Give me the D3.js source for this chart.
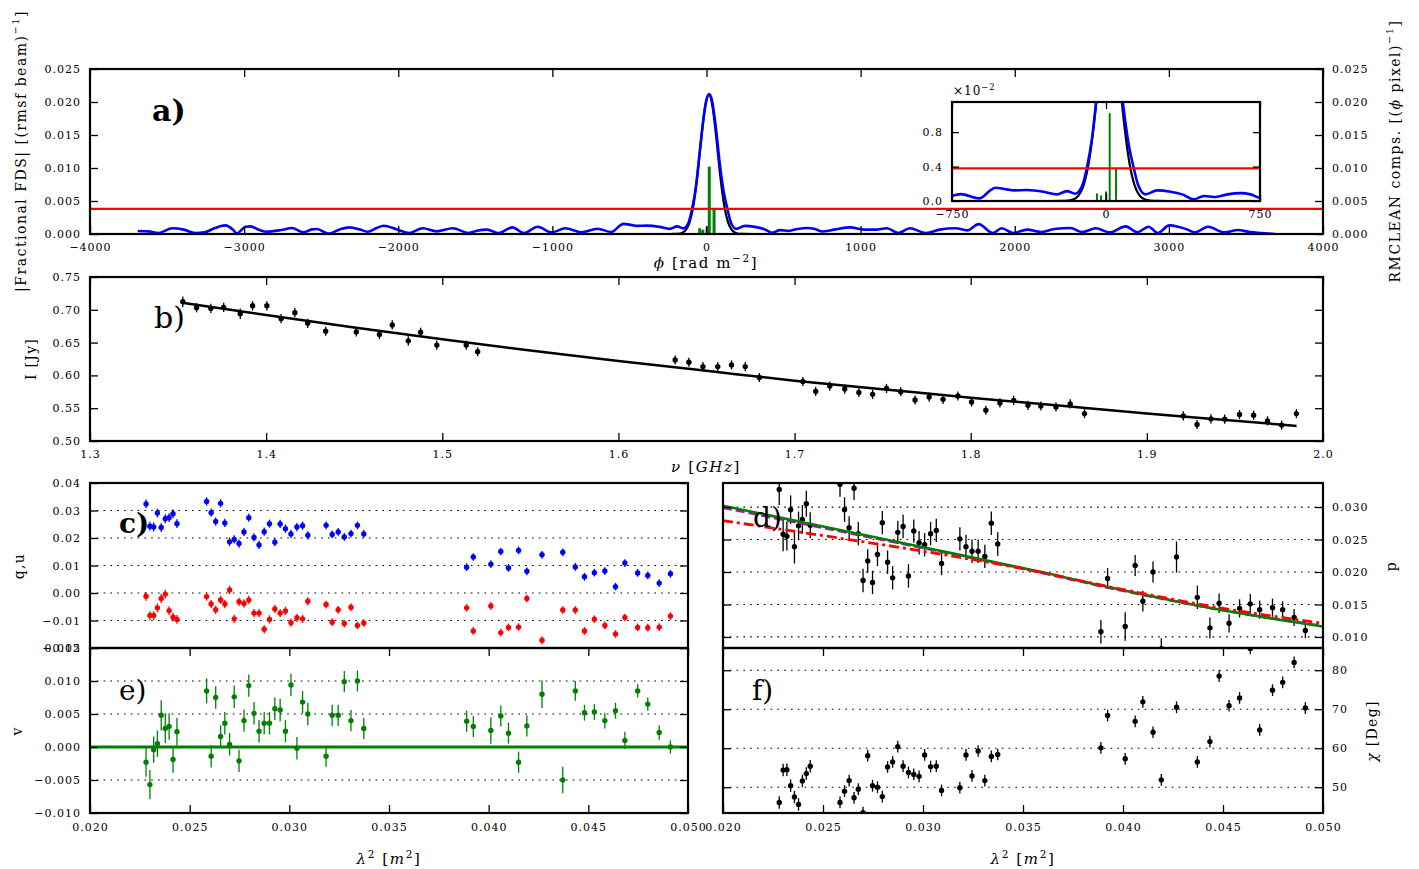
<!DOCTYPE html>
<html><head><meta charset="utf-8">
<script src="https://cdn.jsdelivr.net/npm/d3@7"></script>
<style>
body{margin:0;background:#fff;}
svg text{font-family:"DejaVu Serif",serif;fill:#000;}
</style></head><body>
<svg id="fig" width="1419" height="869"></svg>
<script>
// ---------------- DATA ----------------
// panel a: Faraday dispersion (blue), restoring beam (black), RMCLEAN components (green)
const phiFDS = [-3690,-3620,-3556,-3466,-3392,-3317,-3257,-3190,-3123,-3070,-3049,-2990,-2959,-2900,-2855,-2760,-2690,-2616,-2560,-2527,-2452,-2380,-2318,-2250,-2199,-2140,-2095,-2005,-1930,-1841,-1751,-1647,-1542,-1490,-1423,-1349,-1259,-1184,-1095,-1005,-916,-811,-707,-617,-560,-540,-483,-450,-386,-304,-239,-190,-150,-117,-93,-68,-45,-20,0,17,35,60,85,111,135,159,192,249,314,371,428,477,534,591,656,704,750,828,932,1022,1096,1170,1245,1319,1424,1513,1617,1692,1766,1856,1915,1990,2080,2169,2258,2362,2437,2526,2616,2720,2794,2869,2928,3003,3060,3122,3167,3255,3360,3449,3524,3598,3688];
const absFDS = [0.00045,0.0004,0.00015,0.00086,0.00066,0.00015,0.00025,0.0009,0.0013,0.0006,0.0001,0.0011,0.00116,0.0006,0.00035,0.0006,0.0009,0.00025,0.0007,0.00076,0.00005,0.0007,0.001,0.0007,0.00035,0.0009,0.00126,0.00066,0.00015,0.00086,0.0004,0.00086,0.00015,0.0005,0.00066,0.00015,0.001,0.00015,0.0011,0.00025,0.00086,0.00025,0.0008,0.0003,0.0013,0.00154,0.00135,0.00123,0.00127,0.00108,0.00077,0.00115,0.00085,0.0017,0.00385,0.0073,0.0122,0.0174,0.0203,0.0212,0.0203,0.0163,0.0109,0.0065,0.00385,0.0017,0.00077,0.00123,0.00108,0.00077,0.00019,0.00058,0.00046,0.00077,0.00092,0.00077,0.00038,0.00066,0.001,0.00066,0.00066,0.00086,0.00015,0.00086,0.00015,0.00066,0.00086,0.00055,0.0015,0.00015,0.00086,0.00015,0.00066,0.0003,0.00076,0.0009,0.0003,0.00086,0.00025,0.00116,0.00025,0.0011,0.00015,0.0013,0.0011,0.00066,0.00025,0.0011,0.00025,0.0006,0.0003,0.00015,0.0];
const phiBeam = [-265,-215,-185,-160,-135,-110,-85,-60,-35,-10,15,40,65,90,115,140,165,190,215,245,295];
const beamVal = [0,0.000005,0.000036,0.00016,0.00059,0.00176,0.0043,0.00865,0.01423,0.01919,0.0212,0.01919,0.01423,0.00865,0.0043,0.00176,0.00059,0.00016,0.000036,0.000005,0];
const compPhi = [-44,-24,18,49];
const compVal = [0.00088,0.00065,0.0102,0.0038];
const blackCompPhi = [0];
const blackCompVal = [0.0011];
const threshold = [0.0038];

// panel b: Stokes I vs frequency
const freqGHz = [1.3527,1.3605,1.3686,1.3759,1.3853,1.3923,1.4004,1.4085,1.4163,1.4236,1.4338,1.4512,1.4643,1.4716,1.4807,1.4877,1.4969,1.5136,1.5201,1.6322,1.6400,1.6480,1.6564,1.6642,1.6720,1.6800,1.7047,1.7120,1.7200,1.7285,1.7365,1.7443,1.7522,1.7603,1.7684,1.7764,1.7843,1.7927,1.8005,1.8086,1.8166,1.8244,1.8325,1.8398,1.8484,1.8565,1.8646,1.9207,1.9285,1.9364,1.9442,1.9526,1.9606,1.9685,1.9765,1.9849];
const stokesI = [0.7122,0.7031,0.7021,0.7036,0.6940,0.7061,0.7061,0.6865,0.6956,0.6794,0.6673,0.6663,0.6623,0.6769,0.6527,0.6658,0.6462,0.6462,0.6361,0.6235,0.6200,0.6134,0.6134,0.6160,0.6134,0.5968,0.5907,0.5756,0.5837,0.5792,0.5741,0.5711,0.5801,0.5751,0.5625,0.5670,0.5635,0.5686,0.5595,0.5469,0.5580,0.5620,0.5544,0.5534,0.5519,0.5565,0.5418,0.5383,0.5252,0.5338,0.5333,0.5403,0.5393,0.5307,0.5242,0.5418];
const errI = [0.008,0.007,0.007,0.007,0.008,0.007,0.007,0.007,0.007,0.007,0.007,0.007,0.007,0.007,0.007,0.007,0.007,0.007,0.007,0.007,0.007,0.007,0.007,0.007,0.007,0.007,0.007,0.007,0.007,0.007,0.007,0.007,0.007,0.007,0.007,0.007,0.007,0.007,0.007,0.007,0.007,0.007,0.007,0.007,0.007,0.007,0.007,0.007,0.007,0.007,0.007,0.007,0.007,0.007,0.007,0.007];
const fitNu = [1.352,1.40,1.45,1.50,1.55,1.60,1.65,1.70,1.75,1.80,1.85,1.90,1.95,1.985];
const fitI = [0.711,0.692,0.673,0.655,0.638,0.622,0.607,0.592,0.579,0.566,0.554,0.542,0.531,0.523];

// panels c-f: vs lambda^2
const lambda2 = [0.022812,0.023006,0.023194,0.023381,0.023573,0.023777,0.023969,0.024166,0.024362,
 0.025850,0.026077,0.026306,0.026552,0.026764,0.027002,0.027235,0.027476,0.027724,0.027966,0.028229,0.028481,0.028739,0.029005,0.029273,0.029539,0.029805,0.030082,0.030380,0.030664,0.030928,
 0.031844,0.032149,0.032451,0.032757,0.033092,0.033416,0.033736,
 0.038895,0.039230,0.040110,0.040608,0.040993,0.041501,0.041916,0.042676,0.043718,0.044347,0.044806,0.045303,0.045829,0.046363,0.046833,0.047475,0.047983,0.048556,0.049118];
const qFrac = [-0.0012,-0.0082,-0.0082,-0.0054,-0.0020,-0.0004,-0.0064,-0.0088,-0.0096,
 -0.0013,-0.0040,-0.0061,-0.0025,-0.0040,0.0011,-0.0094,-0.0032,-0.0038,-0.0025,-0.0073,-0.0073,-0.0132,-0.0096,-0.0058,-0.0073,-0.0065,-0.0108,-0.0090,-0.0094,-0.0030,
 -0.0042,-0.0106,-0.0061,-0.0111,-0.0052,-0.0118,-0.0109,
 -0.0054,-0.0138,-0.0047,-0.0144,-0.0125,-0.0124,-0.0020,-0.0172,-0.0062,-0.0062,-0.0138,-0.0095,-0.0118,-0.0149,-0.0089,-0.0125,-0.0126,-0.0124,-0.0084];
const uFrac = [0.0324,0.0243,0.0240,0.0291,0.0238,0.0270,0.0274,0.0288,0.0252,
 0.0333,0.0292,0.0260,0.0326,0.0255,0.0186,0.0195,0.0180,0.0222,0.0274,0.0202,0.0175,0.0223,0.0252,0.0185,0.0251,0.0234,0.0215,0.0240,0.0245,0.0210,
 0.0246,0.0213,0.0222,0.0204,0.0216,0.0246,0.0215,
 0.0094,0.0131,0.0105,0.0151,0.0091,0.0155,0.0079,0.0139,0.0148,0.0095,0.0059,0.0074,0.0080,0.0023,0.0109,0.0073,0.0064,0.0036,0.0070];
const errQU = [0.0016,0.0016,0.0016,0.0016,0.0016,0.0016,0.0016,0.0016,0.0016,
 0.0015,0.0015,0.0015,0.0015,0.0015,0.0015,0.0015,0.0015,0.0015,0.0015,0.0015,0.0015,0.0015,0.0015,0.0015,0.0015,0.0015,0.0015,0.0015,0.0015,0.0015,
 0.0014,0.0014,0.0014,0.0014,0.0014,0.0014,0.0014,
 0.0014,0.0014,0.0014,0.0014,0.0014,0.0014,0.0014,0.0014,0.0014,0.0014,0.0014,0.0014,0.0014,0.0014,0.0014,0.0014,0.0014,0.0014,0.0014];
const vFrac = [-0.0023,-0.0057,-0.0004,0.0005,0.0048,0.0028,0.0031,-0.0019,0.0023,
 0.0085,-0.0014,0.0075,0.0016,0.0036,0.0004,0.0076,-0.0021,0.0040,0.0093,0.0051,0.0024,0.0036,0.0036,0.0058,0.0056,0.0024,0.0094,-0.0002,0.0068,0.0050,
 -0.0014,0.0048,0.0048,0.0099,0.0040,0.0100,0.0028,
 0.0039,0.0031,0.0025,0.0047,0.0021,-0.0023,0.0032,0.0080,-0.0050,0.0085,0.0052,0.0053,0.0040,0.0055,0.0010,0.0085,0.0065,0.0022,0.0000];
const errV = [0.0022,0.0022,0.0020,0.0020,0.0023,0.0022,0.0020,0.0020,0.0021,
 0.0019,0.0017,0.0017,0.0017,0.0017,0.0017,0.0017,0.0017,0.0017,0.0017,0.0017,0.0017,0.0017,0.0017,0.0017,0.0017,0.0017,0.0017,0.0017,0.0017,0.0017,
 0.0016,0.0016,0.0016,0.0016,0.0016,0.0016,0.0016,
 0.0016,0.0016,0.0020,0.0016,0.0016,0.0016,0.0016,0.0021,0.0020,0.0015,0.0012,0.0012,0.0012,0.0012,0.0013,0.0010,0.0010,0.0011,0.0010];
const pFrac = [0.0327,0.0258,0.0255,0.0296,0.0239,0.0271,0.0281,0.0305,0.0272,
 0.0335,0.0296,0.0268,0.0329,0.0259,0.0187,0.0217,0.0184,0.0227,0.0276,0.0215,0.0191,0.0261,0.0270,0.0194,0.0263,0.0245,0.0242,0.0259,0.0264,0.0213,
 0.0251,0.0239,0.0232,0.0232,0.0224,0.0275,0.0243,
 0.0108,0.0190,0.0116,0.0210,0.0155,0.0200,0.0082,0.0223,0.0161,0.0114,0.0152,0.0121,0.0144,0.0151,0.0142,0.0145,0.0142,0.0130,0.0110];
const errP = [0.0024,0.0026,0.0022,0.0022,0.0026,0.0022,0.0022,0.0020,0.0020,
 0.0019,0.0019,0.0018,0.0018,0.0018,0.0018,0.0018,0.0018,0.0018,0.0018,0.0018,0.0018,0.0018,0.0018,0.0018,0.0018,0.0018,0.0018,0.0018,0.0018,0.0018,
 0.0018,0.0018,0.0018,0.0018,0.0018,0.0018,0.0018,
 0.0018,0.0016,0.0022,0.0016,0.0016,0.0016,0.0016,0.0024,0.0018,0.0016,0.0015,0.0014,0.0014,0.0015,0.0014,0.0014,0.0013,0.0013,0.0012];
const chiDeg = [46.1,54.4,54.5,50.4,47.5,45.6,51.6,53.5,55.4,
 46.1,49.0,51.7,47.3,49.5,43.5,58.1,50.4,50.0,47.6,55.2,56.5,60.4,55.4,53.8,53.3,52.8,58.3,55.3,55.4,49.2,
 49.9,58.3,52.9,59.3,51.7,57.9,58.4,
 60.1,68.4,57.3,66.9,71.9,64.1,51.9,70.5,56.5,61.7,78.5,70.9,72.9,85.6,64.7,74.9,76.9,82.0,70.3];
const errChi = [1.6,1.6,1.6,1.6,1.6,1.6,1.6,1.6,1.6,
 1.5,1.5,1.5,1.5,1.5,1.5,1.5,1.5,1.5,1.5,1.5,1.5,1.5,1.5,1.5,1.5,1.5,1.5,1.5,1.5,1.5,
 1.5,1.5,1.5,1.5,1.5,1.5,1.5,
 1.5,1.5,1.5,1.5,1.5,1.5,1.5,1.5,1.5,1.5,1.5,1.5,1.5,1.5,1.5,1.5,1.5,1.5,1.5];
// model curves in panel d and e
const modelLam2 = [0.020,0.025,0.030,0.035,0.040,0.045,0.050];
const modelGreen = [0.0302,0.0270,0.0238,0.0206,0.0172,0.0141,0.0116];
const modelMagenta = [0.0299,0.0268,0.0237,0.0205,0.0171,0.0141,0.0117];
const modelRed = [0.0279,0.0256,0.0232,0.0205,0.0173,0.0144,0.0121];
const vModelLam2 = [0.020,0.050];
const vModel = [0,0];

// tick values
const ticksPhi = [-4000,-3000,-2000,-1000,0,1000,2000,3000,4000];
const ticksFDS = [0,0.005,0.010,0.015,0.020,0.025];
const ticksInsetPhi = [-750,0,750];
const ticksInsetY = [0,0.004,0.008];
const ticksNu = [1.3,1.4,1.5,1.6,1.7,1.8,1.9,2.0];
const ticksI = [0.50,0.55,0.60,0.65,0.70,0.75];
const ticksLam2 = [0.020,0.025,0.030,0.035,0.040,0.045,0.050];
const ticksQU = [-0.02,-0.01,0.00,0.01,0.02,0.03,0.04];
const ticksV = [-0.010,-0.005,0.000,0.005,0.010,0.015];
const ticksP = [0.010,0.015,0.020,0.025,0.030];
const ticksChi = [50,60,70,80];

// ---------------- LAYOUT ----------------
const A = {x0:90,x1:1323,y0:69,y1:234};
const INS = {x0:952,x1:1260,y0:102,y1:201};
const B = {x0:90,x1:1323,y0:277,y1:441};
const C = {x0:90,x1:688,y0:483,y1:648};
const E = {x0:90,x1:688,y0:648,y1:813};
const D = {x0:723,x1:1323,y0:483,y1:648};
const F = {x0:723,x1:1323,y0:648,y1:813};

const svg = d3.select("#fig");
const defs = svg.append("defs");
const FONT = '"DejaVu Serif",serif';

const xA = d3.scaleLinear([-4000,4000],[A.x0,A.x1]), yA = d3.scaleLinear([0,0.025],[A.y1,A.y0]);
const xI = d3.scaleLinear([-750,750],[INS.x0,INS.x1]), yI = d3.scaleLinear([0,0.0115],[INS.y1,INS.y0]);
const xB = d3.scaleLinear([1.3,2.0],[B.x0,B.x1]), yB = d3.scaleLinear([0.5,0.75],[B.y1,B.y0]);
const xC = d3.scaleLinear([0.02,0.05],[C.x0,C.x1]), yC = d3.scaleLinear([-0.02,0.04],[C.y1,C.y0]);
const xE = d3.scaleLinear([0.02,0.05],[E.x0,E.x1]), yE = d3.scaleLinear([-0.01,0.015],[E.y1,E.y0]);
const xD = d3.scaleLinear([0.02,0.05],[D.x0,D.x1]), yD = d3.scaleLinear([0.0083,0.0337],[D.y1,D.y0]);
const xF = d3.scaleLinear([0.02,0.05],[F.x0,F.x1]), yF = d3.scaleLinear([43.4,85.7],[F.y1,F.y0]);

let clipN = 0;
function dataGroup(b){
  const id = "clip"+(clipN++);
  defs.append("clipPath").attr("id",id).append("rect")
    .attr("x",b.x0).attr("y",b.y0).attr("width",b.x1-b.x0).attr("height",b.y1-b.y0);
  return svg.append("g").attr("clip-path",`url(#${id})`);
}
function styleAxis(sel){
  sel.select(".domain").remove();
  sel.attr("font-family",null).attr("font-size",null);
  sel.selectAll(".tick line").attr("stroke","#000").attr("stroke-width",1.3);
  sel.selectAll(".tick text").style("font-family",FONT).style("font-size","11px")
     .style("letter-spacing","1px").attr("fill","#000");
}
function drawAxes(b, xs, ys, o){
  const g = svg.append("g");
  const tl = o.tl || 8;
  if (o.xTicks){
    if (o.xBottom !== false)
      g.append("g").attr("transform",`translate(0,${b.y1})`)
       .call(d3.axisBottom(xs).tickValues(o.xTicks).tickSize(-tl).tickSizeOuter(0).tickPadding(o.xPad||9).tickFormat(o.xFmt||(()=>"")))
       .call(styleAxis);
    if (o.xTop)
      g.append("g").attr("transform",`translate(0,${b.y0})`)
       .call(d3.axisTop(xs).tickValues(o.xTicks).tickSize(-tl).tickSizeOuter(0).tickFormat(()=>""))
       .call(styleAxis);
  }
  if (o.yTicks){
    g.append("g").attr("transform",`translate(${b.x0},0)`)
     .call(d3.axisLeft(ys).tickValues(o.yTicks).tickSize(-tl).tickSizeOuter(0).tickPadding(9).tickFormat(o.yLeftFmt||(()=>"")))
     .call(styleAxis);
    g.append("g").attr("transform",`translate(${b.x1},0)`)
     .call(d3.axisRight(ys).tickValues(o.yTicks).tickSize(-tl).tickSizeOuter(0).tickPadding(9).tickFormat(o.yRightFmt||(()=>"")))
     .call(styleAxis);
  }
  g.append("rect").attr("x",b.x0).attr("y",b.y0).attr("width",b.x1-b.x0).attr("height",b.y1-b.y0)
   .attr("fill","none").attr("stroke","#000").attr("stroke-width",2.2);
  return g;
}
function grid(b, ys, vals){
  svg.append("g").selectAll("line").data(vals.filter(v=>ys(v)>b.y0+1 && ys(v)<b.y1-1)).join("line")
    .attr("x1",b.x0).attr("x2",b.x1).attr("y1",d=>ys(d)).attr("y2",d=>ys(d))
    .attr("stroke","#000").attr("stroke-width",1.2).attr("stroke-dasharray","1.6,5.2");
}
function errPoints(g, xs, ys, X, Y, Er, color){
  const idx = d3.range(X.length);
  g.append("g").selectAll("line").data(idx).join("line")
    .attr("x1",i=>xs(X[i])).attr("x2",i=>xs(X[i]))
    .attr("y1",i=>ys(Y[i]-Er[i])).attr("y2",i=>ys(Y[i]+Er[i]))
    .attr("stroke",color).attr("stroke-width",1.3);
  g.append("g").selectAll("circle").data(idx).join("circle")
    .attr("cx",i=>xs(X[i])).attr("cy",i=>ys(Y[i])).attr("r",2.7).attr("fill",color);
}
function curve(g, xs, ys, X, Y, color, w, dash, cv){
  const line = d3.line().x(i=>xs(X[i])).y(i=>ys(Y[i])).curve(cv||d3.curveMonotoneX);
  g.append("path").attr("d",line(d3.range(X.length))).attr("fill","none")
    .attr("stroke",color).attr("stroke-width",w).attr("stroke-dasharray",dash||null)
    .attr("stroke-linejoin","round");
}
function bars(g, xs, ys, X, Y, color, w){
  g.append("g").selectAll("line").data(d3.range(X.length)).join("line")
    .attr("x1",i=>xs(X[i])).attr("x2",i=>xs(X[i])).attr("y1",ys(0)).attr("y2",i=>ys(Y[i]))
    .attr("stroke",color).attr("stroke-width",w);
}
// rich text: parts {t, it, sup}
function rich(x, y, parts, o){
  const size = o.size||14;
  const t = svg.append("text").attr("font-size",size).attr("text-anchor",o.anchor||"middle")
    .style("letter-spacing",(o.ls!=null?o.ls:1.3)+"px").style("font-family",FONT);
  if (o.rotate){ t.attr("transform",`translate(${x},${y}) rotate(${o.rotate})`).attr("dominant-baseline","central"); }
  else { t.attr("x",x).attr("y",y); }
  if (o.weight) t.attr("font-weight",o.weight);
  let raised = false;
  parts.forEach(p=>{
    const s = t.append("tspan").text(p.t);
    if (p.it) s.attr("font-style","italic");
    if (p.sup){ s.attr("font-size",size*0.7).attr("dy",-size*0.42); raised = true; }
    else if (raised){ s.attr("dy",size*0.42); raised=false; }
  });
  return t;
}

// ---------------- PANEL A ----------------
{
  const g = dataGroup(A);
  curve(g, xA, yA, phiBeam, beamVal, "#000", 2.2);
  curve(g, xA, yA, phiFDS, absFDS, "#0000ff", 2.6);
  bars(g, xA, yA, compPhi, compVal, "#008000", 3);
  bars(g, xA, yA, blackCompPhi, blackCompVal, "#000", 1.5);
  g.append("line").attr("x1",A.x0).attr("x2",A.x1).attr("y1",yA(threshold[0])).attr("y2",yA(threshold[0]))
   .attr("stroke","#ff0000").attr("stroke-width",2.2);
  drawAxes(A, xA, yA, {xTicks:ticksPhi, xFmt:d3.format("d"), xTop:true, yTicks:ticksFDS,
    yLeftFmt:d3.format(".3f"), yRightFmt:d3.format(".3f")});
  // inset
  svg.append("rect").attr("x",INS.x0).attr("y",INS.y0).attr("width",INS.x1-INS.x0).attr("height",INS.y1-INS.y0).attr("fill","#fff");
  const gi = dataGroup(INS);
  curve(gi, xI, yI, phiBeam, beamVal, "#000", 2.2);
  curve(gi, xI, yI, phiFDS, absFDS, "#0000ff", 2.6);
  bars(gi, xI, yI, compPhi, compVal, "#008000", 2);
  bars(gi, xI, yI, blackCompPhi, blackCompVal, "#000", 1.5);
  gi.append("line").attr("x1",INS.x0).attr("x2",INS.x1).attr("y1",yI(threshold[0])).attr("y2",yI(threshold[0]))
   .attr("stroke","#ff0000").attr("stroke-width",2.2);
  drawAxes(INS, xI, yI, {xTicks:ticksInsetPhi, xFmt:d3.format("d"), xTop:true, yTicks:ticksInsetY,
    yLeftFmt:d=>(d*100).toFixed(1), tl:7});
  rich(INS.x0+1, 95, [{t:"×10"},{t:"−2",sup:true}], {size:12, anchor:"start", ls:1});
  rich(152, 121, [{t:"a)"}], {size:30, anchor:"start", ls:0, weight:"bold"});
  rich(706, 268, [{t:"ϕ",it:true},{t:" [rad m"},{t:"−2",sup:true},{t:"]"}], {size:15, ls:1.6});
  rich(21, 151, [{t:"|Fractional FDS| [(rmsf beam)"},{t:"−1",sup:true},{t:"]"}], {size:14, rotate:-90, ls:1.5});
  rich(1395, 151, [{t:"RMCLEAN comps. [("},{t:"ϕ",it:true},{t:" pixel)"},{t:"−1",sup:true},{t:"]"}], {size:14, rotate:-90, ls:1.5});
}

// ---------------- PANEL B ----------------
{
  const g = dataGroup(B);
  curve(g, xB, yB, fitNu, fitI, "#000", 2.5, null, d3.curveMonotoneX);
  errPoints(g, xB, yB, freqGHz, stokesI, errI, "#000");
  drawAxes(B, xB, yB, {xTicks:ticksNu, xFmt:d3.format(".1f"), xTop:true, yTicks:ticksI, yLeftFmt:d3.format(".2f")});
  rich(154, 328, [{t:"b)"}], {size:30, anchor:"start", ls:0});
  rich(706, 472, [{t:"ν",it:true},{t:" ["},{t:"GHz",it:true},{t:"]"}], {size:15, ls:1.6});
  rich(31, 359, [{t:"I [Jy]"}], {size:14, rotate:-90, ls:1.3});
}

// ---------------- PANEL C ----------------
{
  grid(C, yC, ticksQU);
  const g = dataGroup(C);
  errPoints(g, xC, yC, lambda2, uFrac, errQU, "#0000ff");
  errPoints(g, xC, yC, lambda2, qFrac, errQU, "#ff0000");
  drawAxes(C, xC, yC, {yTicks:ticksQU, yLeftFmt:d3.format(".2f")});
  rich(119, 533, [{t:"c)"}], {size:28, anchor:"start", ls:0, weight:"bold"});
  rich(19, 566, [{t:"q,u"}], {size:14, rotate:-90, ls:1.3});
}
// ---------------- PANEL E ----------------
{
  grid(E, yE, ticksV);
  const g = dataGroup(E);
  curve(g, xE, yE, vModelLam2, vModel, "#008000", 3, null, d3.curveLinear);
  errPoints(g, xE, yE, lambda2, vFrac, errV, "#008000");
  drawAxes(E, xE, yE, {xTicks:ticksLam2, xFmt:d3.format(".3f"), xTop:true, xPad:10, yTicks:ticksV, yLeftFmt:d3.format(".3f")});
  rich(119, 700, [{t:"e)"}], {size:28, anchor:"start", ls:0});
  rich(17, 731, [{t:"v"}], {size:14, rotate:-90, ls:1.3});
  rich(389, 864, [{t:"λ",it:true},{t:"2",sup:true},{t:" ["},{t:"m",it:true},{t:"2",sup:true},{t:"]"}], {size:15, ls:1.6});
}
// ---------------- PANEL D ----------------
{
  grid(D, yD, ticksP);
  const g = dataGroup(D);
  errPoints(g, xD, yD, lambda2, pFrac, errP, "#000");
  curve(g, xD, yD, modelLam2, modelMagenta, "#bf00bf", 2.6, "9,4");
  curve(g, xD, yD, modelLam2, modelGreen, "#008000", 2.6);
  curve(g, xD, yD, modelLam2, modelRed, "#ff0000", 2.8, "10,4,3,4");
  drawAxes(D, xD, yD, {yTicks:ticksP, yRightFmt:d3.format(".3f")});
  rich(753, 527, [{t:"d)"}], {size:28, anchor:"start", ls:0});
  rich(1391, 566, [{t:"p"}], {size:14, rotate:-90, ls:1.3});
}
// ---------------- PANEL F ----------------
{
  grid(F, yF, ticksChi);
  const g = dataGroup(F);
  errPoints(g, xF, yF, lambda2, chiDeg, errChi, "#000");
  drawAxes(F, xF, yF, {xTicks:ticksLam2, xFmt:d3.format(".3f"), xTop:true, xPad:10, yTicks:ticksChi, yRightFmt:d3.format("d")});
  rich(752, 700, [{t:"f)"}], {size:28, anchor:"start", ls:0});
  rich(1372, 731, [{t:"χ",it:true},{t:" [Deg]"}], {size:14, rotate:-90, ls:1.3});
  rich(1023, 864, [{t:"λ",it:true},{t:"2",sup:true},{t:" ["},{t:"m",it:true},{t:"2",sup:true},{t:"]"}], {size:15, ls:1.6});
}
</script>
</body></html>
